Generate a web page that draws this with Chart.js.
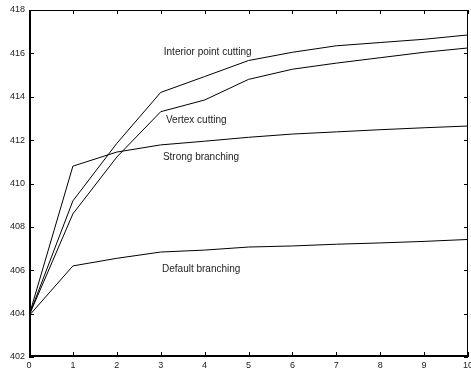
<!DOCTYPE html>
<html>
<head>
<meta charset="utf-8">
<script src="https://cdn.jsdelivr.net/npm/chart.js"></script>
<style>
  html, body { margin: 0; padding: 0; background: #fff; }
  #wrap { width: 471px; height: 370px; position: relative; }
</style>
</head>
<body>
<div id="wrap"><canvas id="c"></canvas></div>
<script>
// iterations 0..10
var iterations = [0, 1, 2, 3, 4, 5, 6, 7, 8, 9, 10];

// bound values per method
var interiorCut = [403.9, 409.2, 411.85, 414.2, 414.93, 415.67, 416.05, 416.35, 416.5, 416.65, 416.85];
var vertexCut   = [403.9, 408.6, 411.22, 413.31, 413.85, 414.8, 415.27, 415.55, 415.8, 416.05, 416.25];
var strongBr    = [403.9, 410.8, 411.45, 411.78, 411.95, 412.13, 412.28, 412.38, 412.48, 412.57, 412.65];
var defaultBr   = [403.9, 406.2, 406.55, 406.84, 406.93, 407.07, 407.12, 407.2, 407.26, 407.33, 407.42];

var seriesNames = ['Interior point cutting', 'Vertex cutting', 'Strong branching', 'Default branching'];
// where each name sits (x iteration, y value)
var labelX = [3.07, 3.12, 3.05, 3.03];
var labelY = [416.06, 412.93, 411.22, 406.06];

var yTicks = [402, 404, 406, 408, 410, 412, 414, 416, 418];

var font = "'Liberation Sans', Arial, Helvetica, sans-serif";

function ds(label, vals) {
  return {
    label: label,
    data: vals.map(function (v, i) { return { x: iterations[i], y: v }; }),
    borderColor: '#000', borderWidth: 1, pointRadius: 0, tension: 0, fill: false
  };
}

// MATLAB-ish box with inward ticks + inline series names
var boxPlugin = {
  id: 'box',
  afterDraw: function (chart) {
    var ctx = chart.ctx, a = chart.chartArea;
    var xs = chart.scales.x, ys = chart.scales.y;
    ctx.save();
    ctx.strokeStyle = '#000';
    // top/right 1px
    ctx.lineWidth = 1;
    ctx.beginPath();
    ctx.moveTo(a.left, a.top + 0.5); ctx.lineTo(a.right, a.top + 0.5);
    ctx.moveTo(a.right - 0.5, a.top); ctx.lineTo(a.right - 0.5, a.bottom);
    ctx.stroke();
    // left/bottom 2px
    ctx.lineWidth = 2;
    ctx.beginPath();
    ctx.moveTo(a.left + 1, a.top); ctx.lineTo(a.left + 1, a.bottom);
    ctx.moveTo(a.left, a.bottom - 1); ctx.lineTo(a.right, a.bottom - 1);
    ctx.stroke();
    // inward ticks
    ctx.lineWidth = 1;
    ctx.beginPath();
    iterations.forEach(function (t) {
      var px = Math.round(xs.getPixelForValue(t)) + 0.5;
      ctx.moveTo(px, a.bottom); ctx.lineTo(px, a.bottom - 5);
      ctx.moveTo(px, a.top); ctx.lineTo(px, a.top + 4);
    });
    yTicks.forEach(function (t) {
      var py = Math.round(ys.getPixelForValue(t)) + 0.5;
      ctx.moveTo(a.left, py); ctx.lineTo(a.left + 5, py);
      ctx.moveTo(a.right, py); ctx.lineTo(a.right - 4, py);
    });
    ctx.stroke();
    // series names
    ctx.fillStyle = '#222';
    ctx.font = '10px ' + font;
    ctx.textBaseline = 'middle';
    ctx.textAlign = 'left';
    seriesNames.forEach(function (n, i) {
      ctx.fillText(n, xs.getPixelForValue(labelX[i]), ys.getPixelForValue(labelY[i]));
    });
    ctx.restore();
  }
};

new Chart(document.getElementById('c'), {
  type: 'line',
  data: {
    datasets: [ds(seriesNames[0], interiorCut), ds(seriesNames[1], vertexCut),
               ds(seriesNames[2], strongBr), ds(seriesNames[3], defaultBr)]
  },
  options: {
    responsive: true,
    maintainAspectRatio: false,
    animation: false,
    layout: { padding: { top: 10, right: 3, left: 0, bottom: 0 } },
    plugins: { legend: { display: false }, tooltip: { enabled: false } },
    scales: {
      x: {
        type: 'linear', min: 0, max: 10,
        border: { display: false },
        grid: { display: false, drawTicks: false },
        ticks: {
          stepSize: 1, padding: 3, color: '#222', maxRotation: 0,
          font: { family: font, size: 9 }
        },
        afterFit: function (s) { s.height = 13; s.paddingLeft = 0; s.paddingRight = 0; }
      },
      y: {
        type: 'linear', min: 402, max: 418,
        border: { display: false },
        grid: { display: false, drawTicks: false },
        ticks: {
          stepSize: 2, padding: 4, color: '#222',
          font: { family: font, size: 9 }
        },
        afterFit: function (s) { s.width = 29; s.paddingTop = 0; s.paddingBottom = 0; }
      }
    }
  },
  plugins: [boxPlugin]
});
</script>
</body>
</html>
